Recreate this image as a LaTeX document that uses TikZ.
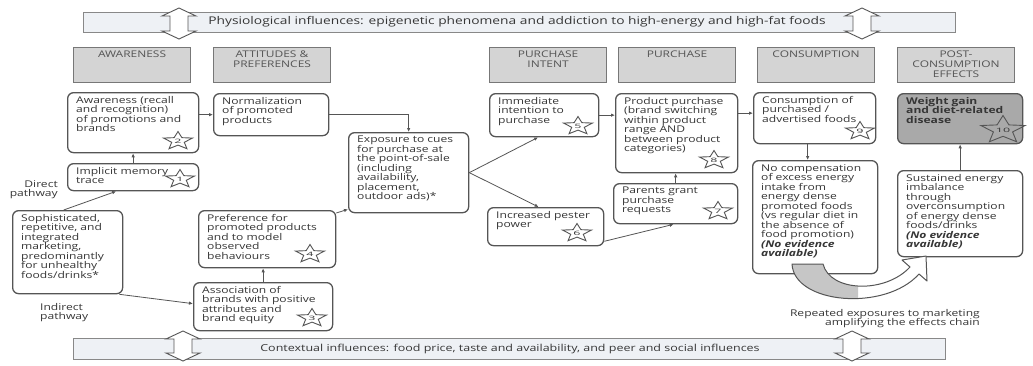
\documentclass[tikz,border=0pt]{standalone}
\usepackage{fontspec}
\setmainfont{Open Sans}[FakeStretch=1.3]
\usetikzlibrary{shapes.geometric,arrows.meta}
\definecolor{txt}{HTML}{363636}
\definecolor{bord}{HTML}{555555}
\definecolor{hfill}{HTML}{D4D4D4}
\definecolor{bandc}{HTML}{EEF1F5}
\definecolor{wfill}{HTML}{A9A9A9}
\tikzset{
 cbox/.style={draw=bord, line width=1.3pt, rounded corners=6pt, fill=white, inner sep=0pt},
 btext/.style={inner sep=0pt, align=left, text=txt, font=\fontsize{9.3}{9.5}\selectfont},
 hbox/.style={draw=bord!80, line width=1.1pt, fill=hfill, inner sep=0pt, minimum width=117pt, minimum height=35pt},
 htext/.style={inner sep=0pt, align=center, text=txt!85, font=\fontsize{9.2}{10}\selectfont},
 arr/.style={draw=bord, line width=0.8pt, -{Latex[length=4pt,width=3.5pt]}},
 starn/.style={star, star points=5, star point ratio=2.3, draw=bord, line width=0.9pt, minimum size=19pt, inner sep=0pt, font=\fontsize{6}{6}\selectfont, text=txt, xscale=1.6, transform shape},
 bandst/.style={draw=bord!70, fill=bandc, line width=1pt, inner sep=0pt},
 dbl/.style={draw=bord, fill=white, line width=0.9pt},
}
\newcommand\bx[7][]{\node[cbox,#1, anchor=north west, minimum width=#5, minimum height=#6] (#2) at (#3,#4) {};
 \node[btext, anchor=north west] (#2t) at ([xshift=9pt,yshift=-4pt]#2.north west) {#7};}
\newcommand\hd[4]{\node[hbox, anchor=north west] (#1) at (#2,#3) {};
 \node[htext, anchor=north] (#1t) at ([yshift=-4pt]#1.north) {#4};}
\newcommand\stn[4]{\begin{scope}[shift={(#2,#3)}]\node[starn] (#1) at (0,0) {#4};\end{scope}}
\newcommand\dblarrow[3]{\filldraw[dbl] (#1,#2) -- ++(17,8) -- ++(-8,0) -- (#1+9,#3-8) -- (#1+17,#3-8) -- (#1,#3) -- (#1-17,#3-8) -- (#1-9,#3-8) -- (#1-9,#2+8) -- (#1-17,#2+8) -- cycle;}
\begin{document}
\begin{tikzpicture}[x=1pt,y=-1pt]
\useasboundingbox[fill=white] (0,0) rectangle (1033,365);
% bands
\node[bandst, anchor=north west, minimum width=872, minimum height=20] (topband) at (83,12) {};
\dblarrow{179}{8}{39}
\dblarrow{862}{8}{39}
\node[text=txt, inner sep=0pt, font=\fontsize{10.6}{12}\selectfont] (toptxt) at (517,22) {Physiological influences: epigenetic phenomena and addiction to high-energy and high-fat foods};
\node[bandst, anchor=north west, minimum width=872, minimum height=21] (botband) at (73,338) {};
\dblarrow{183}{331}{361}
\dblarrow{852}{331}{361}
\node[text=txt, inner sep=0pt, font=\fontsize{9.6}{10}\selectfont] (bottxt) at (510,348.5) {Contextual influences: food price, taste and availability, and peer and social influences};
% headers
\hd{h1}{73}{47}{AWARENESS}
\hd{h2}{213}{47}{ATTITUDES \&\\PREFERENCES}
\hd{h3}{489}{47}{PURCHASE\\INTENT}
\hd{h4}{618}{47}{PURCHASE}
\hd{h5}{757}{47}{CONSUMPTION}
\hd{h6}{897}{47}{POST-\\CONSUMPTION\\EFFECTS}
% boxes
\bx{aw}{67}{92}{131}{60}{Awareness (recall\\and recognition)\\of promotions and\\brands}
\bx{nm}{213}{93}{115}{42}{Normalization\\of promoted\\products}
\bx{im}{67}{163}{131}{27}{Implicit memory\\trace}
\bx{so}{12}{210}{110}{83}{Sophisticated,\\repetitive, and\\integrated\\marketing,\\predominantly\\for unhealthy\\foods/drinks*}
\bx{pr}{198}{210}{137}{57}{Preference for\\promoted products\\and to model\\observed\\behaviours}
\bx{as}{193}{282}{139}{48}{Association of\\brands with positive\\attributes and\\brand equity}
\bx{ex}{348}{132}{120}{80}{Exposure to cues\\for purchase at\\the point-of-sale\\(including\\availability,\\placement,\\outdoor ads)*}
\bx{ii}{489}{93}{109}{43}{Immediate\\intention to\\purchase}
\bx{pp}{487}{207}{116}{38}{Increased pester\\power}
\bx{pu}{615}{93}{122}{79}{Product purchase\\(brand switching\\within product\\range AND\\between product\\categories)}
\bx{pg}{613}{183}{124}{40}{Parents grant\\purchase\\requests}
\bx{co}{753}{92}{122}{51}{Consumption of\\purchased /\\advertised foods}
\bx{nc}{752}{160}{125}{113}{No compensation\\of excess energy\\intake from\\energy dense\\promoted foods\\(vs regular diet in\\the absence of\\food promotion)\\\textbf{\textit{(No evidence}}\\\textbf{\textit{available)}}}
\bx[fill=wfill]{wg}{897}{93}{125}{50}{\textbf{Weight gain}\\\textbf{and diet-related}\\\textbf{disease}}
\bx{su}{897}{170}{125}{86}{Sustained energy\\imbalance\\through\\overconsumption\\of energy dense\\foods/drinks\\\textbf{\textit{(No evidence}}\\\textbf{\textit{available)}}}
% stars
\stn{s1}{180}{179}{1}
\stn{s2}{178}{141}{2}
\stn{s3}{312}{318}{3}
\stn{s4}{310}{254}{4}
\stn{s5}{578}{126}{5}
\stn{s6}{577}{233}{6}
\stn{s7}{718}{211}{7}
\stn{s8}{714}{160}{8}
\stn{s9}{860}{131}{9}
\stn{s10}{1003}{130}{10}
% labels
\node[btext, align=right, anchor=north east] (dp) at (58,180) {Direct\\pathway};
\node[btext, anchor=north west] (ip) at (40,303) {Indirect\\pathway};
\node[btext, align=right, anchor=north east] (rep) at (980,309) {Repeated exposures to marketing\\amplifying the effects chain};
% connectors
\draw[arr] (aw.east |- nm.west) -- (nm.west);
\draw[arr] (im.north) -- (aw.south);
\draw[arr] ([xshift=-4pt]so.north) -- ([xshift=-17pt]im.south);
\draw[arr] ([xshift=-4pt]so.south east) -- ([yshift=3pt]as.west);
\draw[arr] (as.north) -- (as.north |- pr.south);
\draw[arr] ([yshift=-3pt]pr.north east) -- ([yshift=4pt]ex.south west);
\draw[arr] (nm.east) -| (ex.north);
\draw[arr] (ex.east) -- ([xshift=-6pt]ii.south);
\draw[arr] (ex.east) -- ([xshift=-7pt]pp.north);
\draw[arr] (ii.east) -- (ii.east -| pu.west);
\draw[arr] (pg.north) -- (pg.north |- pu.south);
\draw[arr] ([yshift=5pt]pp.south east) -- ([xshift=-2pt]pg.south);
\draw[arr] ([yshift=20pt]pu.east) -- ([yshift=20pt]pu.east -| co.west);
\draw[arr] ([xshift=-7pt]co.south) -- ([xshift=-7pt]co.south |- nc.north);
\draw[arr] (su.north) -- (su.north |- wg.south);
% curved feedback arrow
\def\curvepath{(792,264) .. controls (794,304) and (885,312) .. (919,274) -- (927,281) -- (926,256) -- (902,260) -- (910,267) .. controls (885,294) and (830,292) .. (823,264) -- cycle}
\fill[white] \curvepath;
\begin{scope}
\clip (780,250) rectangle (858,315);
\fill[gray!45] \curvepath;
\end{scope}
\draw[bord, line width=1pt, line join=round] \curvepath;
\end{tikzpicture}
\end{document}
